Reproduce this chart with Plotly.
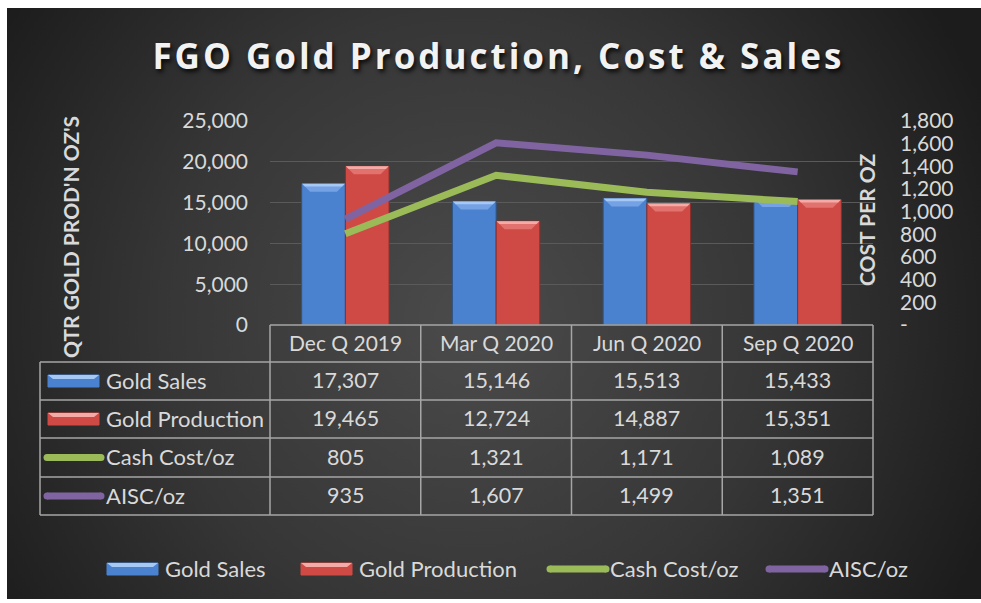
import base64
import plotly.graph_objects as go

# ---------------- data ----------------
categories = ["Dec Q 2019", "Mar Q 2020", "Jun Q 2020", "Sep Q 2020"]
gold_sales = [17307, 15146, 15513, 15433]
gold_production = [19465, 12724, 14887, 15351]
cash_cost = [805, 1321, 1171, 1089]
aisc = [935, 1607, 1499, 1351]
left_ticks = [0, 5000, 10000, 15000, 20000, 25000]
left_tick_labels = ["0", "5,000", "10,000", "15,000", "20,000", "25,000"]
right_ticks = [0, 200, 400, 600, 800, 1000, 1200, 1400, 1600, 1800]
right_tick_labels = ["-", "200", "400", "600", "800", "1,000", "1,200", "1,400", "1,600", "1,800"]
series_names = ["Gold Sales", "Gold Production", "Cash Cost/oz", "AISC/oz"]
title_text = "FGO Gold Production, Cost & Sales"
left_title = "QTR GOLD PROD'N OZ'S"
right_title = "COST PER OZ"

# ---------------- styling ----------------
W, H = 981, 603
BLUE = "#4a82cf"
RED = "#cf4a45"
BLUE_EDGE = "#2f5588"
RED_EDGE = "#8a2e2b"
BLUE_BEV = "#74a2e4"
RED_BEV = "#e2726d"
BLUE_HI = "#a6c8f4"
RED_HI = "#f4aaa6"
GREEN = "#9bbb59"
PURPLE = "#8064a2"
TXT = "#d9d9d9"
GRID = "#5a5a5a"
BORDER = "#a6a6a6"
FONT = "Lato"

PL, PR, PT, PB = 270, 873, 121, 325
TABLE_L = 40
ROW_Y = [325, 362, 400, 438, 477, 515]
BARGAP = 0.42
Y_MAX = 25000
Y2_MAX = 1800


def px(x):
    return x / W


def py(y):
    return 1 - y / H


x_idx = list(range(len(categories)))

fig = go.Figure()

fig.add_trace(go.Bar(x=x_idx, y=gold_sales, name=series_names[0],
                     marker=dict(color=BLUE, line=dict(color=BLUE_EDGE, width=1)),
                     showlegend=False))
fig.add_trace(go.Bar(x=x_idx, y=gold_production, name=series_names[1],
                     marker=dict(color=RED, line=dict(color=RED_EDGE, width=1)),
                     showlegend=False))

# bevel highlights on top of each bar (scatter polygons, drawn above bars)
bar_w = (1 - BARGAP) / 2
bev_x = 8 / ((PR - PL) / len(categories))
bev_y = 8 / (PB - PT) * Y_MAX
for k, (vals, bev, hi) in enumerate([(gold_sales, BLUE_BEV, BLUE_HI),
                                     (gold_production, RED_BEV, RED_HI)]):
    for depth, col in ((1.0, bev), (0.35, hi)):
        xs, ys = [], []
        for i, v in enumerate(vals):
            x0 = i - bar_w + k * bar_w + 0.003
            x1 = x0 + bar_w - 0.006
            dx, dy = bev_x * depth, bev_y * depth
            xs += [x0, x1, x1 - dx, x0 + dx, x0, None]
            ys += [v, v, v - dy, v - dy, v, None]
        fig.add_trace(go.Scatter(x=xs, y=ys, mode="lines", fill="toself", fillcolor=col,
                                 line=dict(width=0, color=col), hoverinfo="skip",
                                 showlegend=False))

fig.add_trace(go.Scatter(x=x_idx, y=cash_cost, name=series_names[2], yaxis="y2",
                         mode="lines", line=dict(color=GREEN, width=7),
                         showlegend=False))
fig.add_trace(go.Scatter(x=x_idx, y=aisc, name=series_names[3], yaxis="y2",
                         mode="lines", line=dict(color=PURPLE, width=7),
                         showlegend=False))

# background gradient panel
svg = (
    f'<svg xmlns="http://www.w3.org/2000/svg" width="{W}" height="{H}" viewBox="0 0 {W} {H}" preserveAspectRatio="none">'
    '<defs><radialGradient id="g" gradientUnits="userSpaceOnUse" cx="470" cy="320" r="560">'
    '<stop offset="0" stop-color="#4b4b4b"/><stop offset="0.55" stop-color="#363636"/>'
    '<stop offset="1" stop-color="#1c1c1c"/></radialGradient></defs>'
    '<rect x="7" y="8" width="974" height="591" fill="url(#g)"/></svg>'
)
src = "data:image/svg+xml;base64," + base64.b64encode(svg.encode()).decode()

shapes = []
annotations = []

# table lines
col_w = (PR - PL) / len(categories)
col_x = [PL + i * col_w for i in range(len(categories) + 1)]
line_style = dict(color=BORDER, width=1.5)
shapes.append(dict(type="line", xref="paper", yref="paper", x0=px(PL), x1=px(PR),
                   y0=py(ROW_Y[0]), y1=py(ROW_Y[0]), line=line_style))
for yy in ROW_Y[1:]:
    shapes.append(dict(type="line", xref="paper", yref="paper", x0=px(TABLE_L), x1=px(PR),
                       y0=py(yy), y1=py(yy), line=line_style))
shapes.append(dict(type="line", xref="paper", yref="paper", x0=px(TABLE_L), x1=px(TABLE_L),
                   y0=py(ROW_Y[1]), y1=py(ROW_Y[-1]), line=line_style))
for xx in col_x:
    shapes.append(dict(type="line", xref="paper", yref="paper", x0=px(xx), x1=px(xx),
                       y0=py(ROW_Y[0]), y1=py(ROW_Y[-1]), line=line_style))


def text(x, y, s, size, anchor="center", angle=0):
    annotations.append(dict(x=px(x), y=py(y), xref="paper", yref="paper", text=s,
                            showarrow=False, xanchor=anchor, yanchor="middle", textangle=angle,
                            font=dict(family=FONT, size=size, color=TXT)))


# header
for i, c in enumerate(categories):
    text((col_x[i] + col_x[i + 1]) / 2, (ROW_Y[0] + ROW_Y[1]) / 2 - 1, c, 21)

series_vals = [gold_sales, gold_production, cash_cost, aisc]
series_cols = [BLUE, RED, GREEN, PURPLE]
series_kind = ["bar", "bar", "line", "line"]
light = {BLUE: BLUE_HI, RED: RED_HI}


def icon(x0, x1, yc, kind, color):
    if kind == "bar":
        shapes.append(dict(type="rect", xref="paper", yref="paper", x0=px(x0), x1=px(x1),
                           y0=py(yc + 6), y1=py(yc - 6), fillcolor=color,
                           line=dict(color=color, width=1)))
        shapes.append(dict(type="path", xref="paper", yref="paper",
                           path=(f"M {px(x0)} {py(yc - 6)} L {px(x1)} {py(yc - 6)} "
                                 f"L {px(x1 - 5)} {py(yc - 2)} L {px(x0 + 5)} {py(yc - 2)} Z"),
                           fillcolor=light[color], line=dict(width=0)))
    else:
        shapes.append(dict(type="line", xref="paper", yref="paper", x0=px(x0 + 3), x1=px(x1 - 3),
                           y0=py(yc), y1=py(yc), line=dict(color=color, width=7)))
        for xe in (x0 + 3, x1 - 3):
            shapes.append(dict(type="circle", xref="paper", yref="paper",
                               x0=px(xe - 3.5), x1=px(xe + 3.5), y0=py(yc - 3.5), y1=py(yc + 3.5),
                               fillcolor=color, line=dict(width=0)))


for r, (name, vals, col, kind) in enumerate(zip(series_names, series_vals, series_cols, series_kind)):
    yc = (ROW_Y[r + 1] + ROW_Y[r + 2]) / 2
    if kind == "bar":
        icon(48, 99, yc, kind, col)
    else:
        icon(44, 104, yc, kind, col)
    text(104, yc - 1, name, 22, anchor="left")
    for i, v in enumerate(vals):
        text((col_x[i] + col_x[i + 1]) / 2, yc - 1, f"{v:,}", 21.5)

# bottom legend
leg_y = 569
leg_pos = [(107, 158, 163), (301, 352, 357), (547, 609, 608), (766, 828, 827)]
for (x0, x1, xl), name, col, kind in zip(leg_pos, series_names, series_cols, series_kind):
    icon(x0, x1, leg_y, kind, col)
    text(xl, leg_y - 1, name, 22, anchor="left")

# axis titles
text(70, 237, f"<b>{left_title}</b>", 21, angle=-90)
text(866, 220, f"<b>{right_title}</b>", 21, angle=-90)

fig.update_layout(
    width=W, height=H,
    margin=dict(l=0, r=0, t=0, b=0, pad=0, autoexpand=False),
    paper_bgcolor="white",
    plot_bgcolor="rgba(0,0,0,0)",
    showlegend=False,
    barmode="group", bargap=BARGAP, bargroupgap=0,
    title=dict(text=f"<b>{title_text}</b>", x=0.508, xanchor="center", y=py(57), yanchor="middle",
               automargin=False,
               font=dict(family="Open Sans", size=35, color="#f2f2f2",
                         shadow="2px 3px 4px rgba(0,0,0,0.8)")),
    xaxis=dict(domain=[px(PL), px(PR)], range=[-0.5, len(categories) - 0.5], type="linear",
               showticklabels=False, showgrid=False, zeroline=False,
               showline=False, ticks="", automargin=False),
    yaxis=dict(domain=[py(PB), py(PT)], range=[0, Y_MAX], tickvals=left_ticks, ticktext=left_tick_labels,
               showgrid=True, gridcolor=GRID, gridwidth=1, zeroline=False, showline=False,
               automargin=False,
               tickfont=dict(family=FONT, size=21, color=TXT), ticklabelstandoff=21),
    yaxis2=dict(overlaying="y", side="right", anchor="x", range=[0, Y2_MAX], tickvals=right_ticks,
                ticktext=right_tick_labels, showgrid=False, zeroline=False, showline=False,
                automargin=False,
                tickfont=dict(family=FONT, size=21, color=TXT), ticklabelstandoff=26),
    shapes=shapes,
    annotations=annotations,
    images=[dict(source=src, xref="paper", yref="paper", x=0, y=1, sizex=1, sizey=1,
                 xanchor="left", yanchor="top", sizing="stretch", layer="below")],
)

fig.write_html(
    "out.html",
    post_script="document.querySelectorAll('.gtitle').forEach(function(e){e.style.letterSpacing='3px';});",
)
